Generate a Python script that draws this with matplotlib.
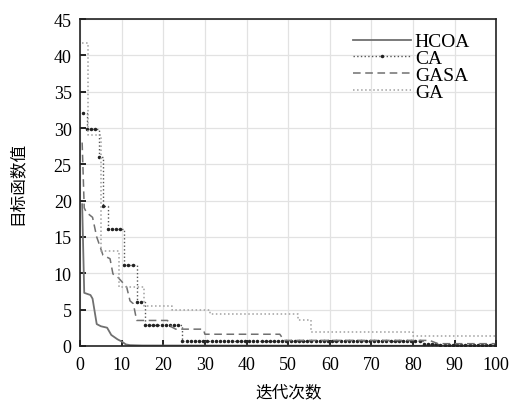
import numpy as np
import matplotlib
matplotlib.use('AGG')
import matplotlib.pyplot as plt

# HCOA: points on the curve (iteration, value)
hcoa_x = [0.5, 1, 2.5, 3, 4, 5, 6.5, 7.5, 9, 10, 11, 12, 15, 100]
hcoa_y = [19.5, 7.3, 7.0, 6.5, 3.0, 2.7, 2.5, 1.5, 0.9, 0.6, 0.2, 0.1, 0.05, 0.0]

# CA: run-length steps (value, number of iterations), markers at every iteration
ca_vals = [32.0, 29.9, 29.9, 26.0, 19.2, 16.1, 11.1, 6.0, 2.9, 0.65, 0.3, 0.1]
ca_runs = [1, 2, 1, 1, 1, 4, 3, 2, 9, 58, 4, 15]

# GASA: points on the curve
gasa_x = [0.5, 1, 1.5, 3, 4, 5.5, 7.2, 7.9, 9, 11.2, 12, 12.8, 13.6, 21, 22, 23, 29.6, 30,
          48, 49, 84, 86, 100]
gasa_y = [28, 19, 18.4, 17.7, 15, 12.5, 12.0, 9.9, 9.5, 8.1, 6.2, 5.8, 3.5, 3.5, 2.6, 2.3, 2.3,
          1.6, 1.6, 0.75, 0.75, 0.3, 0.3]

# GA: step breakpoints
ga_x = [0.5, 1.8, 5.0, 9.4, 15.3, 22.0, 31.3, 52.4, 55.5, 80.0, 100]
ga_y = [41.7, 29.0, 13.0, 8.1, 5.5, 5.0, 4.4, 3.5, 1.9, 1.4, 1.4]

plt.rcParams['font.family'] = ['Liberation Serif', 'Noto Sans CJK SC']

fig = plt.figure(figsize=(5.1, 4.1), dpi=100)
ax = fig.add_axes([0.157, 0.154, 0.816, 0.797])

ca_y = np.repeat(ca_vals, ca_runs)
ca_x = np.arange(len(ca_y)) + 0.6

ax.plot(hcoa_x, hcoa_y, '-', color='#707070', lw=1.3, label='HCOA')
ax.plot(ca_x, ca_y, ':', color='#555555', lw=1.0, marker='.', markersize=3,
        markerfacecolor='#222222', markeredgecolor='#222222', drawstyle='steps-post', label='CA')
ax.plot(gasa_x, gasa_y, '--', color='#707070', lw=1.1, dashes=(5, 3), label='GASA')
ax.plot(ga_x, ga_y, ':', color='#a0a0a0', lw=1.1, drawstyle='steps-post', label='GA')

ax.set_xlim(0, 100)
ax.set_ylim(0, 45)
ax.set_xticks(range(0, 101, 10))
ax.set_yticks(range(0, 46, 5))
ax.grid(True, color='#e2e2e2', lw=0.9)
ax.set_axisbelow(True)
ax.tick_params(direction='in', labelsize=13, length=4, width=1.2)
ax.tick_params(axis='x', pad=7)
ax.tick_params(axis='y', pad=6)
for s in ax.spines.values():
    s.set_linewidth(1.2)
    s.set_color('#222222')

ax.set_xlabel('迭代次数', family=['Noto Sans CJK SC'], fontsize=12, labelpad=8)
ax.set_ylabel('目标函数值', family=['Noto Sans CJK SC'], fontsize=12, labelpad=20)

ax.legend(loc='upper right', bbox_to_anchor=(0.97, 1.0), frameon=False, fontsize=14,
          handlelength=3.0, labelspacing=-0.04, handletextpad=0.2, borderaxespad=0.3)

fig.savefig('out.png')
plt.close(fig)
